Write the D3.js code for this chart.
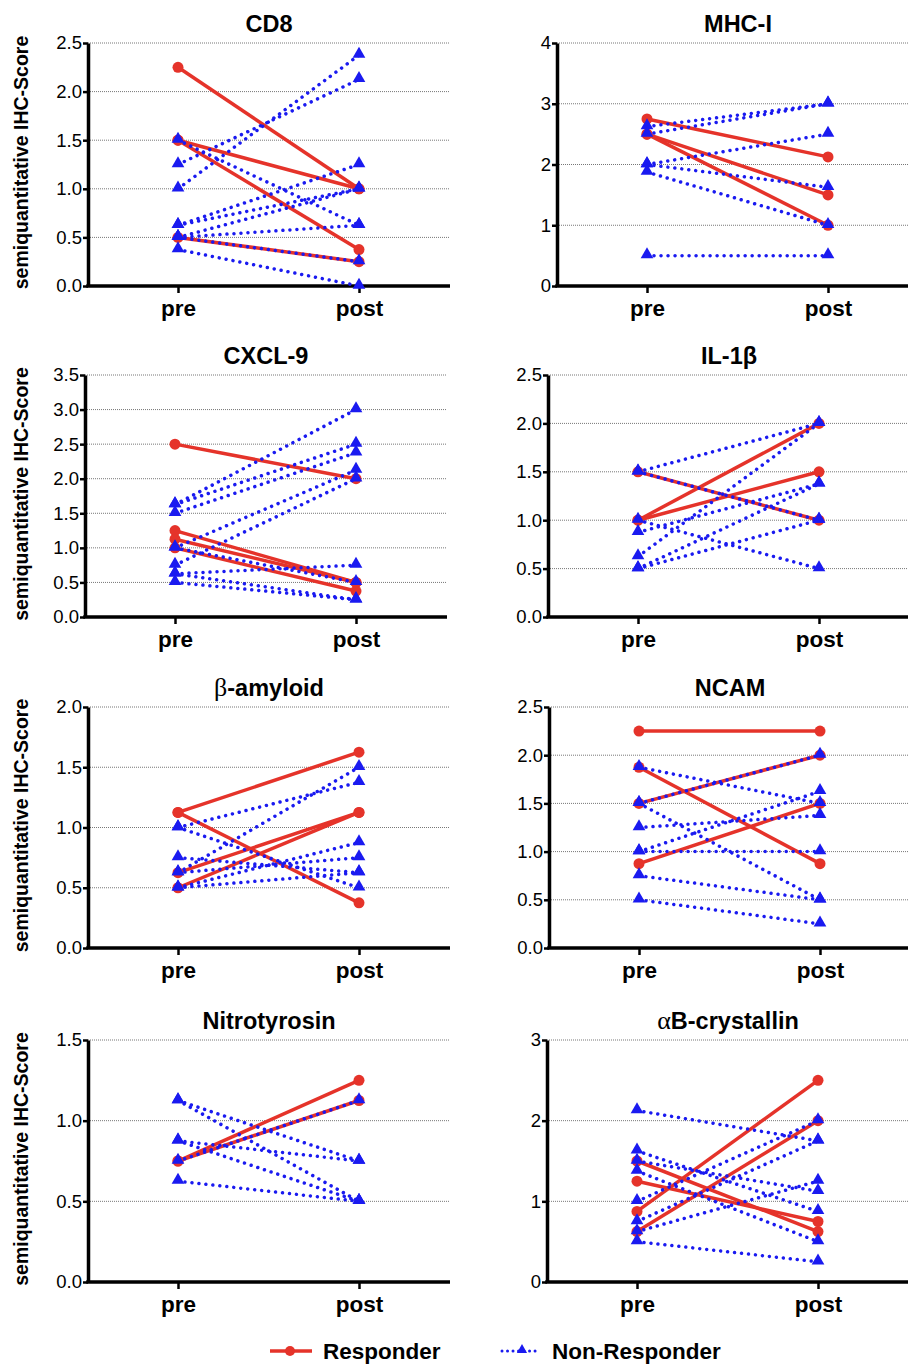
<!DOCTYPE html>
<meta charset="utf-8">
<script src="https://d3js.org/d3.v7.min.js"></script>
<style>
  body { margin: 0; background: #fff; }
  svg { display: block; font-family: "Liberation Sans", Arial, Helvetica, sans-serif; }
  .grid { stroke: #777; stroke-width: 1; stroke-dasharray: 1 1; }
  .axis .domain { stroke: #000; stroke-width: 3.5; }
  .axis .tick line { stroke: #000; stroke-width: 2.5; }
</style>
<body>
<div id="chart"></div>
<script>
// ---------------- data (pre, post) pairs per patient ----------------
var timepoints = ["pre", "post"];
var panelNames = ["CD8", "MHC-I", "CXCL-9", "IL-1β", "β-amyloid", "NCAM", "Nitrotyrosin", "αB-crystallin"];
var yMax  = [2.5, 4, 3.5, 2.5, 2.0, 2.5, 1.5, 3];
var yStep = [0.5, 1, 0.5, 0.5, 0.5, 0.5, 0.5, 1];

var cd8Resp = [[2.25, 1.0], [1.5, 1.0], [1.5, 0.375], [0.5, 0.25]];
var cd8Non  = [[1.0, 2.375], [1.25, 2.125], [1.5, 0.625], [0.625, 1.25], [0.625, 1.0],
               [0.5, 1.0], [0.5, 0.625], [0.375, 0.0], [0.5, 0.25]];

var mhcResp = [[2.75, 2.125], [2.5, 1.5], [2.5, 1.0]];
var mhcNon  = [[2.625, 3.0], [2.5, 3.0], [2.0, 2.5], [2.0, 1.625], [1.875, 1.0], [0.5, 0.5]];

var cxclResp = [[2.5, 2.0], [1.25, 0.5], [1.125, 0.5], [1.0, 0.375]];
var cxclNon  = [[1.625, 3.0], [1.625, 2.5], [1.5, 2.375], [1.0, 2.125], [0.75, 2.0],
                [1.0, 0.5], [0.625, 0.75], [0.625, 0.25], [0.5, 0.25]];

var il1Resp = [[1.0, 2.0], [1.0, 1.5], [1.5, 1.0]];
var il1Non  = [[1.5, 2.0], [1.5, 1.0], [1.0, 0.5], [0.875, 1.375], [0.625, 2.0],
               [0.5, 1.375], [0.5, 1.0]];

var amyResp = [[1.125, 1.625], [1.125, 0.375], [0.625, 1.125], [0.5, 1.125]];
var amyNon  = [[1.0, 1.375], [1.0, 0.5], [0.75, 0.625], [0.625, 1.5], [0.625, 0.75],
               [0.5, 0.875], [0.5, 0.625]];

var ncamResp = [[2.25, 2.25], [1.875, 0.875], [1.5, 2.0], [0.875, 1.5]];
var ncamNon  = [[1.875, 1.5], [1.5, 2.0], [1.5, 0.5], [1.25, 1.375], [1.0, 1.625],
                [1.0, 1.0], [0.75, 0.5], [0.5, 0.25]];

var nitroResp = [[0.75, 1.25], [0.75, 1.125]];
var nitroNon  = [[0.75, 1.125], [1.125, 0.75], [1.125, 0.5], [0.875, 0.75], [0.875, 0.5], [0.625, 0.5]];

var abcResp = [[0.875, 2.5], [0.625, 2.0], [1.5, 0.625], [1.25, 0.75]];
var abcNon  = [[2.125, 1.75], [1.625, 0.875], [1.5, 1.125], [1.375, 0.5], [1.0, 2.0],
               [0.75, 1.75], [0.625, 1.25], [0.5, 0.25]];

var responders    = [cd8Resp, mhcResp, cxclResp, il1Resp, amyResp, ncamResp, nitroResp, abcResp];
var nonResponders = [cd8Non, mhcNon, cxclNon, il1Non, amyNon, ncamNon, nitroNon, abcNon];

var legendLabels = ["Responder", "Non-Responder"];

// ---------------- layout ----------------
var W = 908, H = 1365;
var RED = "#e5332a", BLUE = "#1a1af0";
var axisXs = [88, 557, 85, 548, 88, 549, 88, 547];
var rowTop = [43, 375, 707, 1040];
var rowBottom = [286, 617, 948, 1282];
var preOff = 90, postOff = 271, axisLen = 362;

var svg = d3.select("#chart").append("svg")
    .attr("width", W)
    .attr("height", H);

function drawPanel(i) {
    var row = Math.floor(i / 2), left = (i % 2 === 0);
    var ax = axisXs[i], top = rowTop[row], bottom = rowBottom[row];
    var max = yMax[i], step = yStep[i];

    var y = d3.scaleLinear().domain([0, max]).range([bottom, top]);
    var x = d3.scalePoint().domain(timepoints).range([ax + preOff, ax + postOff]);
    var tickVals = d3.range(0, max + 1e-9, step);

    var g = svg.append("g");

    // grid lines
    g.selectAll("line.grid")
        .data(tickVals.filter(function (d) { return d > 0; }))
        .join("line")
        .attr("class", "grid")
        .attr("x1", ax).attr("x2", ax + axisLen)
        .attr("y1", function (d) { return y(d); })
        .attr("y2", function (d) { return y(d); });

    // y axis
    var yAxis = g.append("g")
        .attr("class", "axis")
        .attr("transform", "translate(" + ax + ",0)")
        .call(d3.axisLeft(y)
            .tickValues(tickVals)
            .tickSize(5).tickSizeOuter(0).tickPadding(1)
            .tickFormat(step < 1 ? d3.format(".1f") : d3.format("d")));
    yAxis.selectAll("text").style("font-size", "18.5px").attr("fill", "#000");

    // x axis
    var xAxis = g.append("g")
        .attr("class", "axis")
        .attr("transform", "translate(0," + bottom + ")")
        .call(d3.axisBottom(x).tickSize(7).tickPadding(7));
    xAxis.select(".domain").remove();
    xAxis.selectAll("text").style("font-size", "22.5px").style("font-weight", "bold").attr("fill", "#000");
    g.append("line")
        .attr("x1", ax - 1.75).attr("x2", ax + axisLen)
        .attr("y1", bottom).attr("y2", bottom)
        .attr("stroke", "#000").attr("stroke-width", 3.5);

    // title
    var title = g.append("text")
        .attr("x", ax + 181).attr("y", top - 11)
        .attr("text-anchor", "middle")
        .style("font-size", "23.5px").style("font-weight", "bold");
    var name = panelNames[i];
    if (name[0] === "β" || name[0] === "α") {
        title.append("tspan").text(name[0])
            .style("font-family", "'Liberation Serif', 'DejaVu Serif', serif")
            .style("font-weight", "normal").style("font-size", "26px");
        title.append("tspan").text(name.slice(1));
    } else {
        title.text(name);
    }

    // y label
    if (left) {
        g.append("text")
            .attr("transform", "translate(28," + ((top + bottom) / 2 - 2) + ") rotate(-90)")
            .attr("text-anchor", "middle")
            .style("font-size", "19.5px").style("font-weight", "bold")
            .text("semiquantitative IHC-Score");
    }

    var line = d3.line()
        .x(function (d, k) { return x(timepoints[k]); })
        .y(function (d) { return y(d); });

    // responders (solid red, circles)
    g.selectAll("path.resp")
        .data(responders[i])
        .join("path")
        .attr("d", line)
        .attr("fill", "none").attr("stroke", RED).attr("stroke-width", 3.5);
    responders[i].forEach(function (pair) {
        g.selectAll(null)
            .data(pair)
            .join("circle")
            .attr("cx", function (d, k) { return x(timepoints[k]); })
            .attr("cy", function (d) { return y(d); })
            .attr("r", 5.5)
            .attr("fill", RED);
    });

    // non-responders (dotted blue, triangles)
    g.selectAll("path.non")
        .data(nonResponders[i])
        .join("path")
        .attr("d", line)
        .attr("fill", "none").attr("stroke", BLUE).attr("stroke-width", 3.5)
        .attr("stroke-linecap", "round").attr("stroke-dasharray", "0.01 7");
    var tri = d3.symbol().type(d3.symbolTriangle).size(70);
    nonResponders[i].forEach(function (pair) {
        g.selectAll(null)
            .data(pair)
            .join("path")
            .attr("d", tri)
            .attr("transform", function (d, k) { return "translate(" + x(timepoints[k]) + "," + (y(d) - 1) + ")"; })
            .attr("fill", BLUE);
    });
}

for (var i = 0; i < panelNames.length; i++) drawPanel(i);

// legend
var lg = svg.append("g").attr("transform", "translate(0,1351)");
lg.append("line").attr("x1", 270).attr("x2", 312).attr("stroke", RED).attr("stroke-width", 3.5);
lg.append("circle").attr("cx", 290).attr("r", 5).attr("fill", RED);
lg.append("text").attr("x", 323).attr("y", 8).style("font-size", "22.5px").style("font-weight", "bold").text(legendLabels[0]);
lg.append("line").attr("x1", 502).attr("x2", 540).attr("stroke", BLUE).attr("stroke-width", 3)
    .attr("stroke-linecap", "round").attr("stroke-dasharray", "0.01 5.5");
lg.append("path").attr("d", d3.symbol().type(d3.symbolTriangle).size(45)).attr("transform", "translate(522,-1)").attr("fill", BLUE);
lg.append("text").attr("x", 552).attr("y", 8).style("font-size", "22.5px").style("font-weight", "bold").text(legendLabels[1]);
</script>
</body>
